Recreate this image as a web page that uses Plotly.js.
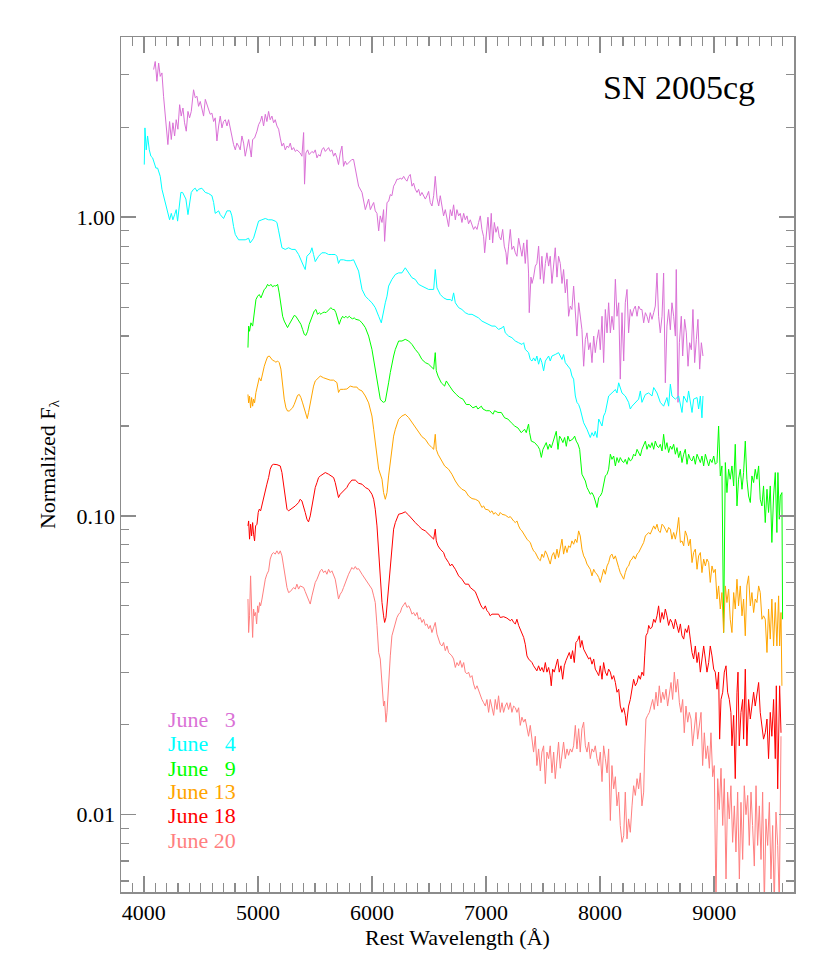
<!DOCTYPE html>
<html>
<head>
<meta charset="utf-8">
<script src="https://cdn.plot.ly/plotly-3.0.1.min.js"></script>
<style>
  body { margin: 0; background: #ffffff; }
  #graph { width: 830px; height: 969px; }
</style>
</head>
<body>
<div id="graph"></div>
<script>
// SN 2005cg spectra, rest wavelength (A) vs normalized flux

var wlJun3 = [4086,4100,4115,4130,4144,4159,4173,4188,4203,4211,4226,4241,4255,4270,4284,4299,4314,4328,4343,4357,4372,4387,4401,4416,4436,4451,4466,4480,4495,4509,4524,4539,4553,4568,4582,4597,4612,4626,4641,4656,4670,4685,4699,4714,4729,4743,4758,4772,4787,4802,4816,4831,4845,4860,4875,4889,4904,4919,4933,4942,4954,4971,4992,5006,5021,5035,5050,5065,5079,5094,5108,5123,5138,5152,5167,5182,5196,5211,5225,5240,5255,5269,5284,5298,5313,5328,5342,5357,5371,5386,5401,5409,5421,5436,5450,5474,5488,5503,5518,5532,5547,5561,5576,5591,5605,5620,5634,5649,5664,5678,5693,5707,5722,5737,5751,5766,5780,5795,5810,5824,5839,5854,5868,5883,
  5913,5942,5971,5986,6000,6015,6029,6044,6059,6073,6088,6102,6111,6123,6132,6146,6161,6175,6190,6205,6219,6234,6248,6263,6278,6292,6307,6322,6336,6351,6365,6380,6395,6409,6424,6438,6453,6468,6482,6497,6511,6526,6541,6555,6570,6585,6599,6614,6628,6643,6658,6672,6687,6701,6716,6731,6745,6760,6774,6789,6804,6818,6833,6847,6862,6877,6891,6906,6921,6935,6950,6964,6979,6988,7002,7017,7032,7046,7058,7073,7087,7102,7116,7131,7146,7160,7175,7184,7198,7213,7227,7242,7257,7271,7286,7300,7315,7330,7344,7359,7373,7379,7394,7403,7417,7432,7446,7461,7476,7490,7505,7520,7534,7549,7563,7578,7593,7607,7622,7636,7651,7666,7680,7695,7710,7724,7739,7753,7768,7783,7797,7812,7826,
  7841,7856,7871,7885,7900,7914,7929,7944,7958,7973,7988,8002,8017,8031,8046,8061,8075,8090,8104,8119,8134,8148,8163,8177,8192,8207,8221,8236,8250,8265,8280,8294,8309,8324,8338,8353,8367,8382,8397,8411,8426,8440,8455,8470,8484,8499,8513,8528,8543,8557,8572,8586,8601,8616,8630,8645,8660,8668,8683,8695,8712,8724,8741,8756,8771,8785,8800,8814,8829,8844,8858,8873,8888,8902];
var fxJun3 = [3.12,3.32,2.85,3.28,2.96,3.04,2.54,2.23,1.97,1.75,2.09,1.82,2.07,1.87,2.12,1.97,2.38,2.18,2.32,2.07,1.94,2.26,2.15,2.26,2.67,2.51,2.54,2.35,2.44,2.29,2.18,2.48,2.38,2.26,2.21,2.23,2.09,2.15,1.80,2.02,2.18,1.99,2.09,2.12,2.02,2.12,1.97,1.87,1.75,1.68,1.77,1.73,1.68,1.87,1.77,1.60,1.73,1.82,1.68,1.59,1.82,1.84,1.94,2.04,2.09,2.18,2.02,2.21,2.09,2.26,2.12,2.18,2.07,2.12,2.02,1.97,1.84,1.73,1.77,1.68,1.73,1.71,1.77,1.68,1.71,1.66,1.68,1.66,1.64,1.60,1.92,1.29,1.64,1.68,1.62,1.66,1.64,1.68,1.58,1.62,1.60,1.68,1.71,1.66,1.68,1.71,1.66,1.68,1.60,1.64,1.58,1.50,1.64,1.73,1.48,1.54,1.50,1.52,1.54,1.56,1.56,1.44,1.37,1.27,
  1.21,1.06,1.15,1.06,1.09,1.12,1.05,1.03,0.90,1.01,0.96,1.06,0.83,1.01,1.12,1.13,1.19,1.18,1.27,1.30,1.34,1.34,1.35,1.34,1.37,1.34,1.32,1.37,1.39,1.27,1.30,1.24,1.21,1.24,1.18,1.21,1.18,1.15,1.18,1.22,1.12,1.09,1.18,1.37,1.16,1.09,1.18,1.09,1.01,1.06,0.98,0.93,1.06,1.01,1.10,0.98,1.06,1.01,1.03,0.96,1.03,0.98,1.01,0.95,0.98,0.95,0.91,0.93,0.91,0.96,1.01,0.91,0.86,0.76,0.86,1.00,0.84,1.03,0.82,0.96,0.89,0.93,0.86,0.84,0.91,0.80,0.76,0.695,0.80,0.91,0.78,0.80,0.76,0.74,0.85,0.78,0.74,0.82,0.70,0.84,0.65,0.479,0.63,0.60,0.63,0.686,0.70,0.80,0.62,0.74,0.60,0.70,0.76,0.686,0.74,0.60,0.70,0.79,0.63,0.74,0.70,0.60,0.668,0.558,0.62,0.466,0.504,0.491,0.588,0.479,0.40,0.517,0.466,
  0.42,0.317,0.39,0.41,0.36,0.38,0.326,0.40,0.352,0.39,0.42,0.36,0.466,0.326,0.491,0.41,0.517,0.41,0.466,0.42,0.62,0.466,0.517,0.287,0.479,0.33,0.517,0.573,0.41,0.491,0.466,0.491,0.504,0.466,0.504,0.491,0.491,0.443,0.479,0.466,0.443,0.479,0.455,0.479,0.504,0.65,0.466,0.41,0.466,0.65,0.279,0.432,0.491,0.42,0.517,0.466,0.40,0.668,0.24,0.38,0.466,0.343,0.455,0.41,0.317,0.38,0.36,0.491,0.326,0.39,0.455,0.31,0.38,0.343];

var wlJun4 = [4004,4010,4021,4033,4048,4062,4077,4092,4106,4121,4130,4144,4159,4173,4188,4203,4217,4226,4241,4255,4270,4284,4296,4311,4325,4340,4355,4369,4387,4401,4416,4436,4451,4466,4480,4509,4539,4568,4597,4612,4626,4656,4670,4699,4729,4758,4772,4787,4802,4831,4860,4889,4919,4933,4962,4977,4992,5006,5035,5065,5094,5123,5152,5167,5182,5196,5211,5240,5269,5298,5328,5357,5386,5401,5415,5430,5459,5474,5488,5503,5532,5561,5591,5620,5649,5678,5693,5707,5722,5751,5780,5810,5839,5854,5868,5883,
  5913,5942,5971,6000,6029,6044,6059,6082,6102,6117,6132,6146,6175,6205,6234,6263,6292,6322,6351,6380,6409,6438,6468,6497,6541,6555,6570,6599,6628,6658,6687,6701,6716,6731,6760,6789,6818,6847,6877,6906,6935,6964,6994,7023,7052,7081,7110,7140,7154,7169,7198,7227,7257,7286,7315,7330,7344,7373,7388,7403,7417,7432,7446,7461,7476,7490,7505,7520,7549,7563,7578,7607,7636,7666,7680,7695,7724,7739,7753,7768,7783,7797,7812,7826,
  7856,7885,7914,7929,7944,7958,7973,7988,8017,8031,8046,8061,8075,8104,8134,8148,8163,8192,8221,8250,8265,8280,8309,8338,8353,8367,8397,8426,8455,8470,8499,8528,8557,8586,8601,8616,8630,8660,8689,8718,8733,8762,8776,8806,8820,8850,8864,8879,8893,8902];
var fxJun4 = [1.50,1.99,1.68,1.87,1.68,1.60,1.58,1.52,1.46,1.46,1.41,1.37,1.24,1.18,1.12,1.06,1.01,0.98,1.03,0.98,1.02,1.06,0.97,1.09,1.21,1.21,1.18,1.15,1.02,1.13,1.21,1.24,1.25,1.22,1.24,1.25,1.21,1.20,1.18,1.12,1.03,1.05,1.02,0.99,1.05,1.05,1.01,0.93,0.875,0.84,0.84,0.84,0.85,0.82,0.85,0.89,0.92,0.97,0.98,0.99,0.98,0.98,0.97,0.96,0.90,0.84,0.79,0.78,0.79,0.78,0.78,0.75,0.70,0.686,0.668,0.74,0.76,0.79,0.75,0.71,0.74,0.76,0.76,0.75,0.75,0.75,0.74,0.70,0.72,0.72,0.715,0.715,0.72,0.70,0.686,0.66,
  0.573,0.544,0.53,0.517,0.498,0.479,0.466,0.443,0.491,0.517,0.544,0.588,0.619,0.643,0.651,0.651,0.677,0.651,0.627,0.619,0.596,0.588,0.58,0.573,0.573,0.668,0.58,0.551,0.537,0.53,0.53,0.524,0.558,0.517,0.498,0.491,0.479,0.473,0.473,0.466,0.46,0.449,0.443,0.438,0.432,0.432,0.421,0.426,0.432,0.41,0.40,0.395,0.385,0.38,0.375,0.38,0.361,0.352,0.334,0.33,0.338,0.33,0.343,0.322,0.338,0.326,0.306,0.33,0.343,0.33,0.343,0.347,0.352,0.334,0.347,0.326,0.317,0.31,0.294,0.287,0.252,0.24,0.236,0.228,
  0.205,0.195,0.183,0.19,0.185,0.192,0.183,0.211,0.20,0.216,0.222,0.24,0.252,0.258,0.265,0.258,0.279,0.258,0.252,0.24,0.228,0.233,0.24,0.246,0.262,0.24,0.255,0.258,0.252,0.269,0.258,0.24,0.233,0.249,0.233,0.276,0.252,0.246,0.252,0.222,0.252,0.24,0.262,0.222,0.246,0.249,0.228,0.252,0.213,0.252];

var wlJun9 = [4913,4919,4927,4939,4954,4968,4983,4998,5012,5027,5041,5056,5071,5085,5100,5114,5129,5144,5158,5173,5187,5202,5217,5231,5246,5260,5275,5290,5304,5319,5333,5348,5363,5377,5392,5407,5421,5436,5450,5465,5480,5494,5509,5523,5538,5553,5567,5582,5597,5611,5626,5640,5655,5670,5684,5699,5713,5728,5743,5757,5772,5786,5801,5816,5830,5845,5859,5889,
  5913,5942,5971,6000,6015,6029,6044,6059,6073,6088,6102,6117,6132,6146,6161,6175,6190,6205,6219,6234,6263,6292,6322,6351,6380,6409,6438,6468,6497,6526,6541,6555,6564,6579,6608,6637,6652,6681,6710,6739,6769,6798,6827,6856,6885,6915,6929,6959,6973,7002,7032,7061,7075,7105,7134,7163,7192,7222,7251,7280,7309,7338,7353,7368,7373,7382,7397,7426,7455,7470,7485,7499,7528,7543,7558,7572,7587,7601,7616,7631,7645,7660,7674,7689,7704,7718,7733,7762,7777,7791,7806,7821,
  7841,7871,7885,7900,7914,7929,7944,7958,7973,7988,8002,8017,8031,8046,8061,8075,8090,8104,8119,8134,8148,8163,8177,8192,8207,8221,8236,8250,8265,8280,8294,8309,8324,8338,8353,8367,8382,8397,8411,8426,8440,8455,8470,8484,8499,8513,8528,8543,8557,8572,8586,8601,8616,8630,8645,8660,8674,8689,8704,8718,8733,8747,8762,8776,8791,8806,8820,8835,8850,8864,8879,8893,8908,8923,8937,8952,8966,8981,8996,9010,9025,9039,9054,9068,9083,9098,9112,9127,9141,9156,9171,9185,9200,9214,9229,9244,9258,9273,9287,9302,9317,9331,9346,9360,9375,9390,9404,9419,9433,9448,9463,9477,9492,9506,9521,9536,9550,9559,9571,9580,9594,9600];
var fxJun9 = [0.366,0.432,0.415,0.443,0.432,0.479,0.53,0.544,0.551,0.537,0.558,0.573,0.58,0.596,0.588,0.596,0.585,0.59,0.588,0.596,0.558,0.504,0.466,0.449,0.438,0.427,0.438,0.449,0.46,0.469,0.466,0.457,0.449,0.438,0.421,0.405,0.402,0.415,0.438,0.455,0.466,0.485,0.491,0.473,0.479,0.473,0.479,0.481,0.479,0.485,0.491,0.498,0.491,0.491,0.479,0.46,0.438,0.455,0.466,0.46,0.466,0.46,0.466,0.46,0.457,0.46,0.455,0.452,
  0.443,0.427,0.40,0.361,0.334,0.31,0.279,0.258,0.246,0.242,0.24,0.242,0.258,0.279,0.302,0.326,0.343,0.361,0.375,0.385,0.385,0.39,0.385,0.375,0.361,0.35,0.334,0.326,0.322,0.314,0.31,0.352,0.306,0.294,0.279,0.272,0.283,0.272,0.262,0.255,0.249,0.246,0.236,0.236,0.23,0.233,0.228,0.233,0.228,0.225,0.225,0.219,0.225,0.222,0.222,0.213,0.211,0.205,0.20,0.197,0.19,0.195,0.19,0.20,0.203,0.19,0.178,0.176,0.171,0.167,0.157,0.167,0.176,0.167,0.174,0.169,0.176,0.183,0.192,0.167,0.185,0.181,0.176,0.183,0.171,0.185,0.178,0.181,0.185,0.178,0.174,0.167,
  0.1379,0.1309,0.1245,0.1213,0.1182,0.1197,0.1166,0.1122,0.1067,0.1152,0.1166,0.1197,0.1277,0.1361,0.1379,0.1433,0.1609,0.1547,0.1587,0.147,0.1568,0.1509,0.1568,0.1528,0.1509,0.1547,0.1489,0.1568,0.1528,0.1547,0.1609,0.1587,0.1671,0.163,0.1587,0.1671,0.1714,0.178,0.1671,0.1737,0.1693,0.1759,0.1671,0.178,0.1714,0.1693,0.1737,0.165,0.1876,0.1671,0.1759,0.163,0.1714,0.1671,0.1737,0.1609,0.1693,0.1568,0.165,0.1509,0.1609,0.1671,0.1489,0.1609,0.1547,0.1528,0.1587,0.1489,0.1609,0.1547,0.1509,0.1587,0.147,0.1609,0.1528,0.147,0.1547,0.1509,0.1587,0.1489,0.1509,0.20,0.1361,0.147,0.0407,0.1509,0.1197,0.1433,0.1327,0.147,0.126,0.1737,0.108,0.1327,0.1433,0.1228,0.1397,0.178,0.1327,0.1166,0.1109,0.1361,0.1293,0.1433,0.1327,0.147,0.1137,0.108,0.126,0.095,0.1228,0.1027,0.126,0.0815,0.1166,0.1397,0.088,0.1397,0.0975,0.1166,0.1197,0.0451];

var wlJun13 = [4913,4919,4927,4936,4945,4954,4962,4971,4983,4998,5012,5027,5041,5056,5071,5085,5100,5114,5129,5144,5158,5173,5187,5202,5217,5231,5246,5260,5275,5290,5304,5319,5333,5348,5363,5377,5392,5407,5421,5433,5444,5459,5474,5488,5503,5518,5532,5547,5576,5605,5634,5664,5693,5707,5722,5751,5780,5810,5839,5868,5883,
  5913,5942,5971,6000,6015,6029,6044,6059,6088,6102,6117,6132,6146,6161,6175,6190,6205,6219,6234,6263,6292,6322,6351,6380,6409,6438,6468,6497,6526,6541,6555,6564,6579,6608,6637,6672,6701,6731,6760,6789,6818,6847,6877,6906,6935,6950,6964,6979,6994,7023,7037,7052,7067,7081,7110,7125,7140,7169,7198,7213,7227,7242,7257,7271,7286,7300,7315,7330,7344,7359,7373,7388,7403,7417,7432,7446,7461,7476,7490,7505,7520,7534,7549,7563,7578,7593,7607,7622,7636,7651,7666,7680,7695,7710,7724,7739,7753,7768,7783,7797,7812,7826,
  7841,7856,7871,7885,7900,7914,7929,7944,7958,7973,7988,8002,8017,8031,8046,8061,8075,8090,8104,8119,8134,8148,8163,8177,8192,8207,8221,8236,8250,8265,8280,8294,8309,8324,8338,8353,8367,8382,8397,8411,8426,8440,8455,8470,8484,8499,8513,8528,8543,8557,8572,8586,8601,8616,8630,8645,8660,8674,8689,8704,8718,8733,8747,8762,8776,8791,8806,8820,8835,8850,8864,8879,8893,8908,8923,8937,8952,8966,8981,8996,9010,9025,9039,9054,9068,9083,9098,9112,9127,9141,9156,9171,9185,9200,9214,9229,9244,9258,9273,9287,9302,9317,9331,9346,9360,9375,9390,9404,9419,9433,9448,9463,9477,9492,9506,9521,9536,9550,9565,9574,9586,9594];
var fxJun13 = [0.255,0.239,0.252,0.23,0.249,0.233,0.246,0.239,0.259,0.272,0.29,0.283,0.302,0.317,0.33,0.341,0.343,0.336,0.332,0.33,0.327,0.33,0.326,0.31,0.272,0.246,0.23,0.2245,0.2245,0.2275,0.23,0.2364,0.246,0.2533,0.255,0.249,0.239,0.2275,0.216,0.2117,0.2217,0.239,0.259,0.272,0.283,0.2866,0.29,0.2939,0.29,0.2875,0.2848,0.2848,0.2794,0.259,0.2653,0.2653,0.266,0.272,0.27,0.27,0.2653,
  0.262,0.252,0.239,0.216,0.195,0.176,0.1547,0.1433,0.1327,0.1197,0.1137,0.1197,0.1361,0.1509,0.1671,0.185,0.195,0.2025,0.2106,0.216,0.2188,0.2133,0.2053,0.1975,0.19,0.1842,0.1805,0.1737,0.1693,0.1671,0.1876,0.1671,0.1609,0.1528,0.147,0.1433,0.1379,0.1309,0.126,0.1228,0.1213,0.1166,0.1143,0.1137,0.1122,0.1094,0.1067,0.108,0.1053,0.1047,0.1027,0.104,0.1013,0.1027,0.1,0.1027,0.1013,0.1006,0.0988,0.0995,0.0975,0.0962,0.095,0.0962,0.0926,0.0903,0.0891,0.0869,0.0847,0.0836,0.0825,0.0815,0.0784,0.0764,0.0754,0.0735,0.0717,0.0708,0.0745,0.0726,0.0764,0.0745,0.0717,0.069,0.0735,0.0754,0.0717,0.0774,0.0726,0.0774,0.0836,0.0745,0.0794,0.0754,0.0794,0.0784,0.0825,0.0804,0.0836,0.0815,0.0891,0.0857,
  0.0774,0.0735,0.0717,0.069,0.0672,0.0663,0.063,0.0663,0.0646,0.0638,0.0622,0.0599,0.063,0.0663,0.0638,0.068,0.0698,0.0735,0.0745,0.0717,0.0735,0.0698,0.0672,0.0646,0.063,0.0614,0.0646,0.0672,0.068,0.0708,0.0717,0.0735,0.0717,0.0745,0.0754,0.0774,0.0784,0.0815,0.0857,0.0869,0.088,0.0869,0.0903,0.0926,0.0903,0.0938,0.0891,0.088,0.0938,0.0926,0.0903,0.088,0.0915,0.0903,0.0836,0.088,0.0836,0.0891,0.0988,0.0815,0.0825,0.0794,0.0891,0.0857,0.0794,0.0836,0.0698,0.0754,0.0774,0.0663,0.0735,0.0754,0.0646,0.0717,0.068,0.0717,0.0698,0.0599,0.068,0.0646,0.0663,0.0527,0.0583,0.0488,0.0554,0.0407,0.0583,0.0513,0.0569,0.0451,0.0407,0.0554,0.0488,0.0614,0.05,0.0583,0.0463,0.0527,0.0397,0.0583,0.063,0.05,0.0554,0.0475,0.0527,0.0513,0.0583,0.0554,0.0451,0.0463,0.0451,0.0349,0.0488,0.0387,0.0527,0.0367,0.0513,0.0367,0.054,0.0367,0.0475,0.027];

var wlJun18 = [4913,4919,4927,4936,4945,4954,4962,4971,4980,4992,5003,5012,5024,5036,5050,5065,5079,5094,5108,5123,5138,5167,5196,5211,5225,5240,5255,5269,5298,5328,5357,5371,5386,5401,5415,5430,5444,5459,5474,5488,5503,5518,5532,5547,5576,5591,5620,5649,5664,5678,5693,5707,5722,5751,5766,5780,5795,5810,5824,5854,5883,
  5913,5942,5971,6000,6015,6029,6044,6059,6073,6088,6102,6111,6123,6132,6146,6161,6175,6190,6205,6219,6234,6263,6292,6322,6351,6380,6409,6438,6468,6497,6526,6541,6555,6564,6579,6599,6628,6643,6672,6687,6701,6731,6760,6789,6818,6847,6862,6891,6906,6921,6935,6950,6964,6979,6994,7008,7023,7037,7052,7081,7110,7125,7154,7183,7213,7227,7242,7257,7271,7286,7300,7315,7330,7344,7359,7373,7388,7403,7417,7432,7446,7461,7476,7490,7505,7520,7534,7549,7563,7572,7584,7598,7613,7628,7642,7657,7672,7686,7701,7715,7730,7745,7759,7774,7788,7803,7818,
  7827,7841,7856,7871,7885,7900,7914,7929,7944,7958,7973,7988,8002,8017,8031,8046,8061,8075,8090,8104,8119,8134,8148,8163,8177,8192,8207,8221,8230,8242,8250,8265,8280,8294,8309,8324,8338,8353,8367,8382,8391,8402,8417,8426,8440,8455,8470,8484,8499,8513,8528,8543,8557,8572,8586,8601,8616,8630,8645,8660,8674,8689,8704,8718,8733,8747,8762,8776,8791,8806,8820,8835,8850,8864,8879,8893,8908,8923,8937,8952,8966,8981,8996,9010,9025,9039,9048,9060,9075,9089,9104,9118,9133,9147,9156,9171,9185,9200,9209,9220,9235,9250,9258,9273,9287,9302,9317,9331,9346,9360,9375,9390,9404,9419,9433,9448,9463,9477,9492,9506,9521,9536,9545,9557,9565,9574,9586];
var fxJun18 = [0.0926,0.0962,0.0836,0.0938,0.0857,0.095,0.0869,0.0825,0.0926,0.0938,0.1027,0.1053,0.104,0.1094,0.1152,0.1213,0.1277,0.1344,0.1433,0.1478,0.1489,0.1485,0.147,0.1397,0.126,0.1152,0.1053,0.104,0.1059,0.108,0.1109,0.1137,0.1122,0.108,0.1027,0.0975,0.0955,0.1,0.108,0.1166,0.1245,0.1293,0.1344,0.1361,0.1379,0.1397,0.1379,0.1361,0.1344,0.1293,0.1213,0.1152,0.1182,0.1213,0.1222,0.1245,0.1277,0.1299,0.1318,0.1318,0.1286,
  0.1277,0.1245,0.1228,0.1182,0.1137,0.1053,0.0926,0.0754,0.0614,0.0513,0.0463,0.044,0.0457,0.05,0.0583,0.0698,0.0815,0.0903,0.095,0.0988,0.1013,0.102,0.1032,0.1006,0.0975,0.095,0.0926,0.0903,0.0891,0.0869,0.0847,0.0836,0.0903,0.0825,0.0794,0.0774,0.0754,0.0726,0.0698,0.068,0.069,0.0663,0.063,0.0614,0.0591,0.0591,0.0576,0.0566,0.0558,0.054,0.052,0.0507,0.0494,0.0488,0.05,0.0482,0.0475,0.0463,0.0469,0.0469,0.0469,0.0457,0.046,0.0455,0.0446,0.0451,0.044,0.0435,0.0451,0.043,0.0419,0.0407,0.0392,0.0372,0.034,0.0332,0.0328,0.0323,0.0315,0.0307,0.0303,0.0315,0.0303,0.0311,0.03,0.0323,0.03,0.0311,0.0292,0.027,0.0307,0.03,0.0315,0.0332,0.03,0.0315,0.0284,0.0315,0.0328,0.034,0.0349,0.0332,0.0354,0.0323,0.0377,0.0383,0.0397,
  0.0363,0.0383,0.0358,0.0349,0.034,0.0332,0.0336,0.0319,0.0332,0.0307,0.03,0.0292,0.0315,0.0284,0.0323,0.03,0.0292,0.0307,0.03,0.0284,0.0292,0.0277,0.0257,0.0263,0.0231,0.022,0.0228,0.0215,0.0199,0.0215,0.0231,0.0243,0.0263,0.0284,0.027,0.0277,0.0292,0.0284,0.03,0.0292,0.034,0.0397,0.0407,0.043,0.0419,0.0424,0.0451,0.044,0.0463,0.05,0.044,0.0475,0.0451,0.0488,0.0463,0.043,0.0451,0.044,0.0419,0.0451,0.043,0.0407,0.0435,0.0397,0.0387,0.0419,0.0407,0.043,0.0387,0.0349,0.0332,0.0367,0.0323,0.0349,0.03,0.0332,0.0367,0.0332,0.03,0.0323,0.0367,0.034,0.0307,0.03,0.0263,0.03,0.0179,0.0243,0.0257,0.03,0.0315,0.0257,0.0243,0.022,0.017,0.0215,0.0132,0.0257,0.03,0.017,0.022,0.0243,0.0179,0.0307,0.017,0.0243,0.0209,0.0231,0.0257,0.0231,0.0257,0.0277,0.022,0.0199,0.0179,0.0188,0.0209,0.0154,0.022,0.0183,0.0243,0.0154,0.027,0.0122,0.0179,0.027,0.0188];

var wlJun20 = [4913,4919,4927,4936,4945,4954,4962,4971,4980,4989,4998,5006,5015,5024,5036,5050,5065,5079,5094,5108,5123,5138,5152,5167,5182,5196,5211,5225,5240,5255,5269,5284,5313,5328,5342,5357,5371,5401,5415,5430,5444,5459,5474,5488,5503,5518,5532,5547,5561,5576,5591,5605,5620,5634,5649,5664,5678,5693,5707,5722,5737,5751,5766,5780,5795,5810,5824,5839,5854,5868,5883,
  5913,5942,5971,6000,6015,6029,6044,6059,6073,6088,6102,6111,6123,6132,6146,6161,6175,6190,6205,6219,6234,6248,6263,6292,6307,6322,6336,6351,6365,6380,6395,6409,6424,6438,6453,6468,6482,6497,6511,6526,6541,6555,6570,6585,6599,6614,6628,6643,6658,6672,6687,6701,6716,6731,6745,6760,6774,6789,6804,6818,6833,6847,6862,6877,6891,6906,6921,6935,6950,6964,6979,6994,7008,7023,7037,7052,7067,7081,7096,7110,7125,7140,7154,7169,7183,7198,7213,7227,7242,7257,7271,7286,7300,7315,7330,7344,7359,7373,7388,7403,7417,7432,7446,7461,7476,7490,7505,7520,7534,7549,7563,7578,7593,7607,7622,7636,7651,7666,7680,7695,7710,7724,7739,7753,7768,7783,7797,7812,7826,
  7841,7856,7871,7885,7900,7914,7929,7944,7958,7973,7988,8002,8017,8031,8046,8061,8075,8090,8104,8119,8134,8148,8163,8177,8192,8207,8221,8236,8250,8265,8280,8294,8309,8324,8338,8353,8367,8382,8391,8402,8417,8432,8446,8461,8475,8490,8505,8519,8534,8549,8563,8578,8592,8607,8622,8636,8651,8665,8680,8695,8709,8724,8738,8753,8768,8782,8797,8811,8826,8841,8855,8870,8885,8899,8914,8928,8943,8958,8972,8987,9001,9016,9031,9045,9060,9075,9089,9104,9118,9133,9147,9162,9177,9191,9206,9221,9235,9250,9264,9279,9294,9308,9323,9337,9352,9367,9381,9396,9411,9425,9440,9454,9469,9484,9498,9513,9527,9542,9557,9571,9586];
var fxJun20 = [0.0527,0.0407,0.0463,0.063,0.0488,0.0392,0.0488,0.0463,0.0475,0.0435,0.05,0.0475,0.0513,0.05,0.0527,0.0569,0.0614,0.0638,0.0655,0.0717,0.0745,0.0754,0.0745,0.0764,0.0745,0.0764,0.0735,0.068,0.0614,0.0576,0.0554,0.0558,0.0576,0.0569,0.0591,0.0569,0.0583,0.0576,0.0558,0.054,0.052,0.0507,0.054,0.0576,0.0599,0.0614,0.0638,0.0655,0.0663,0.0646,0.0655,0.0638,0.0663,0.0646,0.0655,0.063,0.0614,0.0569,0.0527,0.0547,0.0558,0.0576,0.0599,0.0622,0.0638,0.0655,0.0672,0.0663,0.0677,0.0663,0.0666,
  0.0638,0.0614,0.0591,0.0569,0.054,0.0513,0.043,0.0349,0.0332,0.027,0.0231,0.024,0.0204,0.022,0.0284,0.034,0.0397,0.0419,0.044,0.0457,0.0469,0.0475,0.0494,0.0513,0.0494,0.05,0.0488,0.0469,0.0475,0.0463,0.0475,0.0451,0.0457,0.044,0.0451,0.043,0.0435,0.0419,0.043,0.0407,0.0424,0.044,0.0402,0.0387,0.0372,0.0367,0.0377,0.0354,0.0367,0.0349,0.0345,0.034,0.0332,0.0311,0.0323,0.0315,0.0328,0.0311,0.0323,0.03,0.0296,0.03,0.0288,0.0292,0.0274,0.0263,0.027,0.026,0.025,0.0243,0.0237,0.0231,0.0243,0.022,0.0243,0.0228,0.0215,0.0243,0.0225,0.025,0.022,0.0237,0.022,0.0231,0.0237,0.0225,0.0237,0.022,0.0231,0.0228,0.022,0.0228,0.0199,0.0212,0.0204,0.0209,0.0194,0.0183,0.0199,0.0177,0.0162,0.0183,0.0146,0.0166,0.014,0.0162,0.017,0.0127,0.0162,0.0154,0.017,0.0138,0.0162,0.0132,0.0158,0.0175,0.0143,0.0162,0.0175,0.0154,0.0166,0.0158,0.0166,0.0162,0.017,0.0199,0.0166,0.0194,0.0162,
  0.0194,0.0204,0.017,0.0162,0.0175,0.0154,0.0166,0.0162,0.017,0.0154,0.0146,0.0162,0.0129,0.017,0.0154,0.0138,0.0166,0.00956,0.0146,0.0122,0.0134,0.0107,0.0119,0.0092,0.00808,0.0085,0.0119,0.0083,0.00968,0.00873,0.0107,0.0125,0.0116,0.0132,0.0122,0.0138,0.0107,0.0119,0.0162,0.0209,0.0215,0.022,0.0231,0.0243,0.0225,0.0257,0.0231,0.027,0.0237,0.0257,0.0243,0.0263,0.0231,0.0257,0.0277,0.0243,0.03,0.0257,0.0284,0.0237,0.022,0.0243,0.0188,0.0231,0.0204,0.022,0.0209,0.017,0.0194,0.022,0.0179,0.0199,0.022,0.0146,0.0188,0.0154,0.017,0.0143,0.0188,0.0134,0.0146,0.005,0.0132,0.0104,0.0143,0.0092,0.0132,0.00609,0.0119,0.00968,0.0125,0.00808,0.0107,0.0075,0.0119,0.00609,0.011,0.00708,0.0125,0.01,0.0116,0.00789,0.0119,0.0092,0.00673,0.0125,0.00789,0.0107,0.00708,0.0119,0.005,0.00968,0.00789,0.011,0.00609,0.0092,0.005,0.0102,0.00789,0.005,0.0183];

var dates = ["June\u00a0\u00a0\u00a03", "June\u00a0\u00a0\u00a04", "June\u00a0\u00a0\u00a09", "June 13", "June 18", "June 20"];
var colors = ["#DA70D6", "#00FFFF", "#00FF00", "#FFA500", "#FF0000", "#FF7F7F"];
var wls = [wlJun3, wlJun4, wlJun9, wlJun13, wlJun18, wlJun20];
var fxs = [fxJun3, fxJun4, fxJun9, fxJun13, fxJun18, fxJun20];

var yTicks = [0.01, 0.1, 1];
var yTickText = ["0.01", "0.10", "1.00"];
var yMinor = [0.006, 0.007, 0.008, 0.009, 0.02, 0.03, 0.04, 0.05, 0.06, 0.07, 0.08, 0.09,
  0.2, 0.3, 0.4, 0.5, 0.6, 0.7, 0.8, 0.9, 2, 3, 4];

var font = "Liberation Serif";
var axisGrey = "#8c8c8c";

var traces = [];
for (var i = 0; i < wls.length; i++) {
  traces.push({
    x: wls[i],
    y: fxs[i],
    mode: "lines",
    name: dates[i],
    line: { color: colors[i], width: 1 },
    hoverinfo: "skip",
  });
}

var notes = [
  {
    text: "SN 2005cg",
    xref: "paper", yref: "paper",
    x: 0.945, y: 0.9415,
    xanchor: "right", yanchor: "middle",
    showarrow: false,
    font: { family: font, size: 34, color: "#000000" },
  },
];
var labelY = [0.2012, 0.1731, 0.1450, 0.1170, 0.0889, 0.0608];
for (var j = 0; j < dates.length; j++) {
  notes.push({
    text: dates[j],
    xref: "paper", yref: "paper",
    x: 0.0669, y: labelY[j],
    xanchor: "left", yanchor: "middle",
    showarrow: false,
    font: { family: font, size: 22, color: colors[j] },
  });
}

Plotly.newPlot(
  "graph",
  traces,
  {
    width: 830,
    height: 969,
    margin: { l: 121, r: 36, t: 37, b: 77 },
    paper_bgcolor: "#ffffff",
    plot_bgcolor: "#ffffff",
    showlegend: false,
    font: { family: font, size: 22, color: "#000000" },
    xaxis: {
      range: [3800, 9700],
      tickmode: "array",
      tickvals: [4000, 5000, 6000, 7000, 8000, 9000],
      ticks: "inside",
      ticklen: 16,
      tickwidth: 1.5,
      tickcolor: axisGrey,
      minor: { dtick: 100, ticks: "inside", ticklen: 9, tickwidth: 1.2, tickcolor: axisGrey },
      showline: true,
      linecolor: axisGrey,
      linewidth: 1.5,
      mirror: "ticks",
      showgrid: false,
      zeroline: false,
      tickfont: { family: font, size: 22, color: "#000000" },
      title: { text: "Rest Wavelength (\u00c5)", font: { family: font, size: 22, color: "#000000" }, standoff: 4 },
      fixedrange: true,
    },
    yaxis: {
      type: "log",
      range: [Math.log10(0.00551), Math.log10(4.01)],
      tickmode: "array",
      tickvals: yTicks,
      ticktext: yTickText,
      ticks: "inside",
      ticklen: 15,
      tickwidth: 1.5,
      tickcolor: axisGrey,
      minor: { tickmode: "array", tickvals: yMinor, ticks: "inside", ticklen: 8, tickwidth: 1.2, tickcolor: axisGrey },
      showline: true,
      linecolor: axisGrey,
      linewidth: 1.5,
      mirror: "ticks",
      showgrid: false,
      zeroline: false,
      tickfont: { family: font, size: 22, color: "#000000" },
      title: { text: "Normalized F<sub>\u03bb</sub>", font: { family: font, size: 22, color: "#000000" }, standoff: 15 },
      fixedrange: true,
    },
    annotations: notes,
  },
  { displayModeBar: false, staticPlot: true }
);
</script>
</body>
</html>
